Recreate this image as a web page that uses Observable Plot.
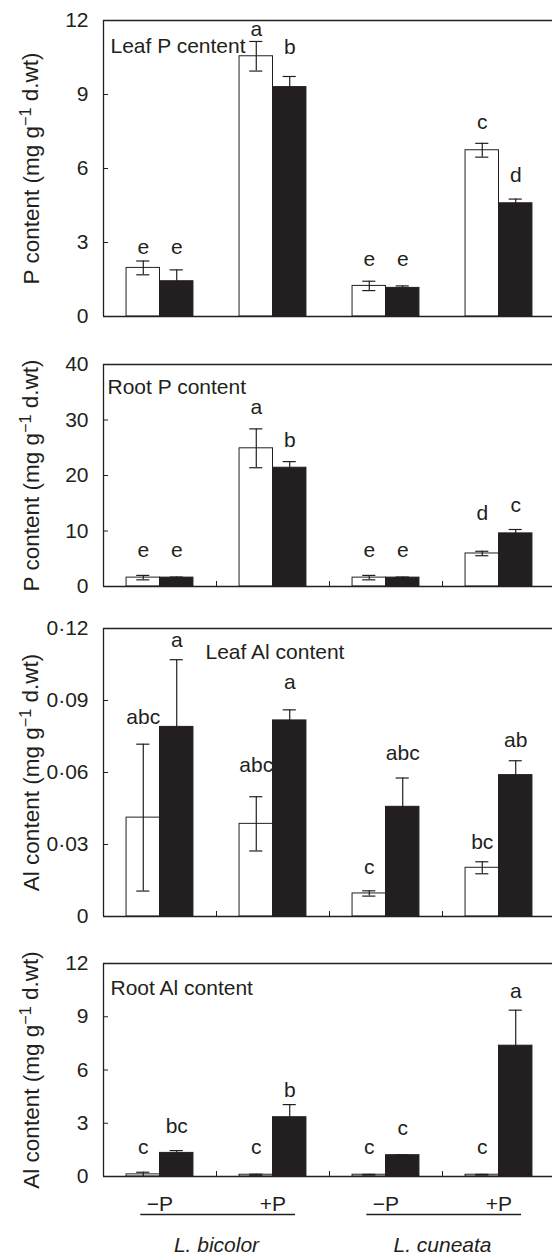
<!DOCTYPE html>
<html><head><meta charset="utf-8">
<script src="https://cdn.jsdelivr.net/npm/d3@7"></script>
<script src="https://cdn.jsdelivr.net/npm/@observablehq/plot@0.6"></script>
<style>
body{margin:0;background:#fff;overflow:hidden}
#chart svg{display:block}
</style></head><body><div id="chart"></div>
<script>
// ---- data (order per group: open bar, filled bar) ----
const groups = ["\u2212P", "+P", "\u2212P", "+P"];
const species = ["L. bicolor", "L. cuneata"];

const leafP        = [1.97, 1.43, 10.55, 9.3, 1.24, 1.16, 6.74, 4.59];
const leafPErr     = [0.28, 0.46, 0.6, 0.43, 0.19, 0.08, 0.28, 0.17];
const leafPLetters = ["e", "e", "a", "b", "e", "e", "c", "d"];
const leafPLetterY = [2.55, 2.55, 11.39, 10.65, 2.04, 2.04, 7.61, 5.45];
const leafPTicks   = [0, 3, 6, 9, 12];

const rootP        = [1.6, 1.6, 24.9, 21.4, 1.6, 1.6, 5.95, 9.57];
const rootPErr     = [0.4, 0.1, 3.5, 1.1, 0.4, 0.1, 0.4, 0.7];
const rootPLetters = ["e", "e", "a", "b", "e", "e", "d", "c"];
const rootPLetterY = [5.4, 5.4, 31.0, 25.1, 5.4, 5.4, 12.0, 13.35];
const rootPTicks   = [0, 10, 20, 30, 40];

const leafAl        = [0.0412, 0.079, 0.0386, 0.0817, 0.0096, 0.0457, 0.0203, 0.0589];
const leafAlErr     = [0.0306, 0.028, 0.0113, 0.0044, 0.0011, 0.012, 0.0025, 0.006];
const leafAlLetters = ["abc", "a", "abc", "a", "c", "abc", "bc", "ab"];
const leafAlLetterY = [0.0801, 0.1123, 0.0601, 0.095, 0.0176, 0.0651, 0.0283, 0.0707];
const leafAlTicks   = [0, 0.03, 0.06, 0.09, 0.12];

const rootAl        = [0.12, 1.33, 0.1, 3.34, 0.1, 1.2, 0.1, 7.37];
const rootAlErr     = [0.12, 0.13, 0.03, 0.71, 0.02, 0.02, 0.02, 2.0];
const rootAlLetters = ["c", "bc", "c", "b", "c", "c", "c", "a"];
const rootAlLetterY = [1.24, 2.44, 1.24, 4.46, 1.24, 2.36, 1.24, 10.03];
const rootAlTicks   = [0, 3, 6, 9, 12];

const INK = "#231f20";
const FONT = "'Liberation Sans', Arial, Helvetica, sans-serif";
const FS = 21;
const FSL = 22.5;
const BW = 0.296;   // bar width in group units
const CAP = 0.058;  // half cap width in group units

function panel(cfg) {
  const rows = cfg.values.map((v, i) => ({
    g: Math.floor(i / 2), t: i % 2, v, e: cfg.errs[i], L: cfg.letters[i], ly: cfg.letterY[i]
  }));
  const cx = d => d.g + 0.5 + (d.t === 0 ? -BW / 2 : BW / 2);
  const yMax = cfg.ticks[cfg.ticks.length - 1];
  const marks = [
    Plot.rectY(rows.filter(d => d.t === 0), {x1: d => d.g + 0.5 - BW, x2: d => d.g + 0.5, y1: 0, y2: "v", fill: "white", stroke: INK, strokeWidth: 1}),
    Plot.rectY(rows.filter(d => d.t === 1), {x1: d => d.g + 0.5, x2: d => d.g + 0.5 + BW, y1: 0, y2: "v", fill: INK, stroke: INK, strokeWidth: 1}),
    Plot.ruleX(rows, {x: cx, y1: d => Math.max(0, d.v - d.e), y2: d => d.v + d.e, stroke: INK, strokeWidth: 1.2}),
    Plot.ruleY(rows, {y: d => d.v + d.e, x1: d => cx(d) - CAP, x2: d => cx(d) + CAP, stroke: INK, strokeWidth: 1.2}),
    Plot.ruleY(rows.filter(d => d.v - d.e > 0), {y: d => d.v - d.e, x1: d => cx(d) - CAP, x2: d => cx(d) + CAP, stroke: INK, strokeWidth: 1.2}),
    Plot.text(rows, {x: cx, y: "ly", text: "L", lineAnchor: "bottom", fill: INK, fontSize: FS}),
    Plot.ruleY([0, yMax], {stroke: INK, strokeWidth: 1.3}),
    Plot.ruleX([0], {stroke: INK, strokeWidth: 1.3}),
    Plot.axisY({ticks: cfg.ticks, tickFormat: cfg.fmt, tickSize: -5, tickPadding: 20, fontSize: FS, label: null, stroke: INK, fill: INK}),
    Plot.text([cfg.title], {text: d => d, frameAnchor: "top-left", textAnchor: "start", lineAnchor: "bottom", dx: cfg.titleDx, dy: cfg.titleDy, fontSize: FS, fill: INK}),
    Plot.text([cfg.yLabel], {text: d => d, frameAnchor: "left", rotate: -90, dx: -65, textAnchor: "middle", lineAnchor: "bottom", fontSize: FSL, fill: INK})
  ];
  if (cfg.xTicks) marks.push(Plot.axisX({ticks: [1, 2, 3], tickSize: -5, tickFormat: () => "", label: null, stroke: INK}));
  if (cfg.showGroups) {
    marks.push(
      Plot.text(groups, {x: (d, i) => i + 0.5, text: d => d, frameAnchor: "bottom", dy: 34, lineAnchor: "bottom", fontSize: FS, fill: INK}),
      Plot.ruleY(species, {y: () => 0, x1: (d, i) => 2 * i + 0.5 - 0.17, x2: (d, i) => 2 * i + 1.5 + 0.2, dy: 38, stroke: INK, strokeWidth: 1.3}),
      Plot.text(species, {x: (d, i) => 2 * i + 1, text: d => d, frameAnchor: "bottom", dy: 75, lineAnchor: "bottom", fontStyle: "italic", fontSize: FS, fill: INK})
    );
  }
  const svg = Plot.plot({
    width: 552, height: cfg.height,
    marginLeft: 103, marginRight: 0, marginTop: cfg.mt, marginBottom: cfg.mb,
    x: {domain: [0, 4], range: [103, 555], axis: cfg.xTicks ? undefined : null},
    y: {domain: [0, yMax]},
    style: {fontFamily: FONT, fontSize: FS + "px", color: INK, background: "white", overflow: "hidden"},
    marks
  });
  // superscript in the axis title
  d3.select(svg).selectAll("text").each(function () {
    if (this.textContent === cfg.yLabel) {
      const parts = cfg.yLabel.split("g\u207B\u00B9");
      const t = d3.select(this);
      t.text(null);
      t.append("tspan").text(parts[0] + "g");
      t.append("tspan").attr("dy", "-0.45em").attr("font-size", "0.72em").text("\u22121");
      t.append("tspan").attr("dy", "0.32em").text(parts[1]);
    }
  });
  return svg;
}

const dotFmt = d => d === 0 ? "0" : d.toFixed(2).replace(".", "\u00B7");
const el = document.getElementById("chart");
el.append(panel({values: leafP, errs: leafPErr, letters: leafPLetters, letterY: leafPLetterY, ticks: leafPTicks, fmt: d => String(d),
  title: "Leaf P centent", titleDx: 7, titleDy: 32, yLabel: "P content (mg g\u207B\u00B9 d.wt)", height: 340, mt: 20, mb: 24, xTicks: false}));
el.append(panel({values: rootP, errs: rootPErr, letters: rootPLetters, letterY: rootPLetterY, ticks: rootPTicks, fmt: d => String(d),
  title: "Root P content", titleDx: 4, titleDy: 29, yLabel: "P content (mg g\u207B\u00B9 d.wt)", height: 260, mt: 24, mb: 14, xTicks: true}));
el.append(panel({values: leafAl, errs: leafAlErr, letters: leafAlLetters, letterY: leafAlLetterY, ticks: leafAlTicks, fmt: dotFmt,
  title: "Leaf Al content", titleDx: 102, titleDy: 30, yLabel: "Al content (mg g\u207B\u00B9 d.wt)", height: 330, mt: 28, mb: 14, xTicks: true}));
el.append(panel({values: rootAl, errs: rootAlErr, letters: rootAlLetters, letterY: rootAlLetterY, ticks: rootAlTicks, fmt: d => String(d),
  title: "Root Al content", titleDx: 7, titleDy: 31, yLabel: "Al content (mg g\u207B\u00B9 d.wt)", height: 325, mt: 33, mb: 79, xTicks: true, showGroups: true}));
</script></body></html>
